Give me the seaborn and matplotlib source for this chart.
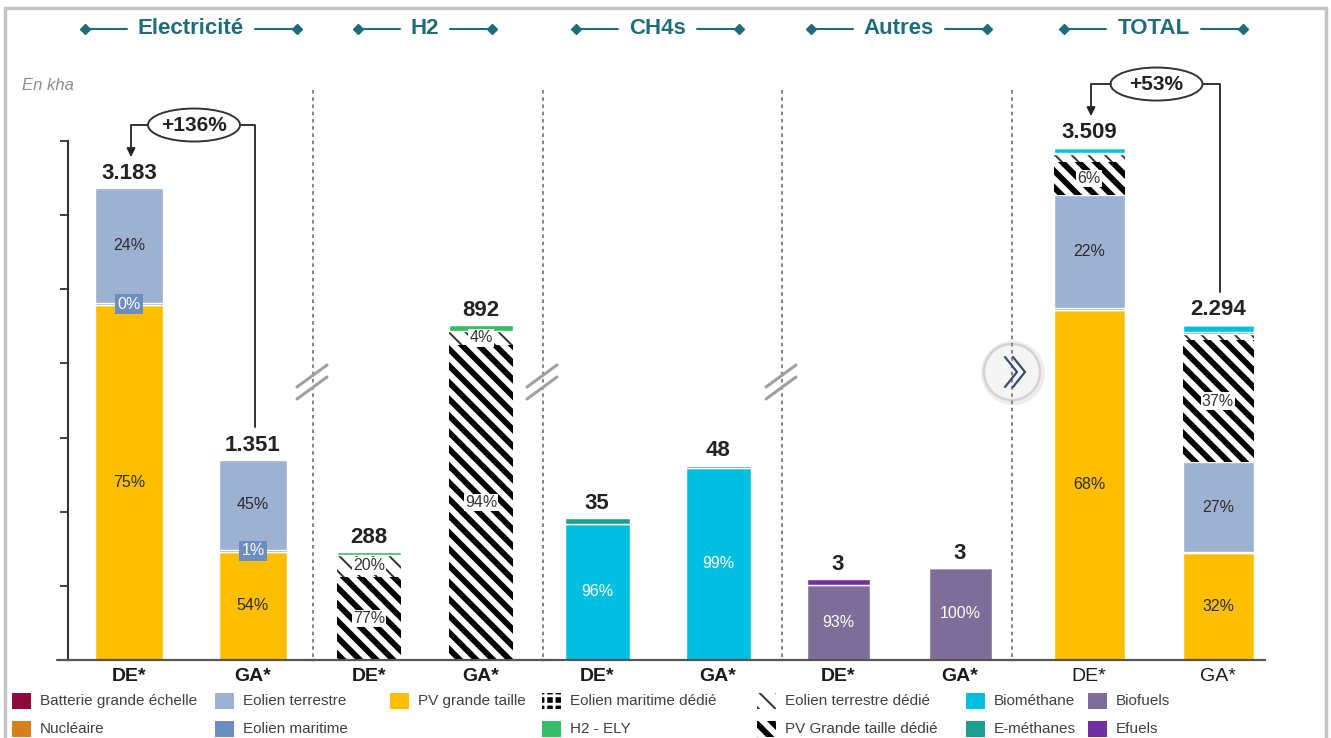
import numpy as np
import matplotlib
matplotlib.use("Agg")
import matplotlib.pyplot as plt
import seaborn as sns
from matplotlib.patches import Ellipse, Rectangle, Patch
from matplotlib.lines import Line2D

# Surfaces mobilisées par vecteur, en kha (scénarios DE* / GA*)
scenarios = ["DE*", "GA*"]

elec_pv_grande_taille = [2395, 730]
elec_eolien_maritime = [10, 11]
elec_eolien_terrestre = [778, 610]

h2_pv_dedie = [222, 839]
h2_eolien_terrestre_dedie = [58, 38]
h2_ely = [8, 15]

ch4_biomethane = [33.6, 47.5]
ch4_e_methanes = [1.4, 0.5]

autres_biofuels = [2.6, 3.2]
autres_efuels = [0.2, 0.0]

section_titles = ["Electricité", "H2", "CH4s", "Autres", "TOTAL"]

legend_items = [
    "Batterie grande échelle", "Nucléaire", "Eolien terrestre", "Eolien maritime",
    "PV grande taille", "Eolien maritime dédié", "H2 - ELY", "Eolien terrestre dédié",
    "PV Grande taille dédié", "Biométhane", "E-méthanes", "Biofuels", "Efuels",
]

STYLE = {
    "Batterie grande échelle": dict(color="#8C0A3C"),
    "Nucléaire": dict(color="#D4801C"),
    "Eolien terrestre": dict(color="#9DB1D1"),
    "Eolien maritime": dict(color="#6B8DC0"),
    "PV grande taille": dict(color="#FFBF00"),
    "Eolien maritime dédié": dict(color="black", hatch="++", hcolor="white", hlw=2.0),
    "H2 - ELY": dict(color="#35BD68"),
    "Eolien terrestre dédié": dict(color="white", hatch="\\\\", hcolor="#333333", hlw=1.4),
    "PV Grande taille dédié": dict(color="white", hatch="\\\\", hcolor="black", hlw=4.2),
    "Biométhane": dict(color="#00BFE0"),
    "E-méthanes": dict(color="#1E9E92"),
    "Biofuels": dict(color="#7C6E98"),
    "Efuels": dict(color="#7030A0"),
}

stacks = [
    [("PV grande taille", elec_pv_grande_taille),
     ("Eolien maritime", elec_eolien_maritime),
     ("Eolien terrestre", elec_eolien_terrestre)],
    [("PV Grande taille dédié", h2_pv_dedie),
     ("Eolien terrestre dédié", h2_eolien_terrestre_dedie),
     ("H2 - ELY", h2_ely)],
    [("Biométhane", ch4_biomethane),
     ("E-méthanes", ch4_e_methanes)],
    [("Biofuels", autres_biofuels),
     ("Efuels", autres_efuels)],
]
# the TOTAL column stacks every source of every vector
stacks.append([item for s in stacks for item in s])

labelled = [
    {"PV grande taille", "Eolien maritime", "Eolien terrestre"},
    {"PV Grande taille dédié", "Eolien terrestre dédié"},
    {"Biométhane"},
    {"Biofuels"},
    {"PV grande taille", "Eolien terrestre", "PV Grande taille dédié"},
]

# ---------------------------------------------------------------- layout
W, H = 1331, 738
sns.set_theme(style="white")
plt.rcParams["font.family"] = ["Liberation Sans", "DejaVu Sans"]

fig = plt.figure(figsize=(W / 100, H / 100), dpi=100)
fig.patch.set_facecolor("white")


def fx(px):
    return px / W


def fy(py):
    return 1 - py / H


BASE, TOP = 660, 90
sections = [(68, 313), (313, 543), (543, 782), (782, 1012), (1012, 1265)]
bar_centers = [(129, 253), (369, 481), (597, 718), (838, 960), (1089, 1218)]
bar_widths = [68, 64, 65, 63, 71]
y_limits = [3844, 1518, 140.7, 19.8, 3899]

HAS_HCOLOR = hasattr(Patch, "set_hatchcolor")
HAS_HLW = hasattr(Patch, "set_hatch_linewidth")


def label_kw(name):
    st = STYLE[name]
    if name == "Eolien maritime":
        return dict(color="white",
                    bbox=dict(boxstyle="square,pad=0.15", fc=st["color"], ec="none"))
    if "hatch" in st:
        return dict(color="#333333",
                    bbox=dict(boxstyle="square,pad=0.08", fc="white", ec="none"))
    if name in ("Biométhane", "Biofuels"):
        return dict(color="white")
    return dict(color="#2B2B2B")


axes = []
for k, ((l, r), (c0, c1), bw, ymax) in enumerate(
        zip(sections, bar_centers, bar_widths, y_limits)):
    ax = fig.add_axes([fx(l), fy(BASE), fx(r) - fx(l), (BASE - TOP) / H])
    axes.append(ax)
    spacing = c1 - c0
    width = bw / spacing
    bottom = np.zeros(len(scenarios))
    segs = []
    for name, vals in stacks[k]:
        vals = np.asarray(vals, dtype=float)
        st = STYLE[name]
        kw = dict(edgecolor="white", linewidth=1.0)
        if "hatch" in st:
            kw = dict(hatch=st["hatch"], edgecolor="white" if HAS_HCOLOR else st["hcolor"],
                      linewidth=1.0 if HAS_HCOLOR else 0)
        sns.barplot(x=scenarios, y=vals, order=scenarios, bottom=bottom,
                    color=st["color"], saturation=1, width=width,
                    errorbar=None, ax=ax, **kw)
        if "hatch" in st:
            for p in ax.containers[-1]:
                if HAS_HCOLOR:
                    p.set_hatchcolor(st["hcolor"])
                if HAS_HLW:
                    p.set_hatch_linewidth(st["hlw"])
        segs.append((name, vals, bottom.copy()))
        bottom = bottom + vals
    totals = bottom

    # share labels inside the segments
    for name, vals, bot in segs:
        if name not in labelled[k]:
            continue
        for i in range(len(scenarios)):
            ax.text(i, bot[i] + vals[i] / 2, f"{vals[i] / totals[i] * 100:.0f}%",
                    ha="center", va="center", fontsize=11.5, **label_kw(name))

    # totals above the bars
    for i, t in enumerate(totals):
        ax.annotate(f"{round(t):,}".replace(",", "."), xy=(i, t), xytext=(0, 3),
                    textcoords="offset points", ha="center", va="bottom",
                    fontsize=16, fontweight="bold", color="#222222")

    ax.set_xlim(-(c0 - l) / spacing, 1 + (r - c1) / spacing)
    ax.set_ylim(0, ymax)
    ax.set_xlabel("")
    ax.set_ylabel("")
    ax.set_facecolor("none")
    for s in ("top", "right", "left"):
        ax.spines[s].set_visible(False)
    ax.spines["bottom"].set_color("#555555")
    ax.spines["bottom"].set_linewidth(1.6)
    ax.tick_params(axis="x", length=0, pad=6)
    for t in ax.get_xticklabels():
        t.set_fontsize(14)
        t.set_fontweight("normal" if k == 4 else "bold")
        t.set_color("#1A1A1A")
    ax.set_yticks([])
    ax.totals = totals

# value axis of the electricity panel
ax0 = axes[0]
ax0.spines["left"].set_visible(True)
ax0.spines["left"].set_color("#333333")
ax0.spines["left"].set_linewidth(1.5)
ax0.spines["left"].set_bounds(0, 3500)
ax0.set_yticks(np.arange(0, 3501, 500))
ax0.set_yticklabels([])
ax0.tick_params(axis="y", length=6, width=1.3, color="#333333", direction="out", left=True)
fig.add_artist(Line2D([fx(57), fx(68)], [fy(BASE), fy(BASE)], color="#555555", lw=1.6))

fig.text(fx(22), fy(86), "En kha", fontsize=12, style="italic", color="#8C8C8C",
         ha="left", va="center")

# dashed separators between vectors, with axis-break marks
for k, xd in enumerate([313, 543, 782, 1012]):
    fig.add_artist(Line2D([fx(xd), fx(xd)], [fy(TOP), fy(BASE)], color="#7A7A7A",
                          lw=1.3, linestyle=(0, (2, 2))))
    if k < 3:
        for dy in (-6, 6):
            fig.add_artist(Line2D([fx(xd - 16), fx(xd + 14)],
                                  [fy(382 + dy + 11), fy(382 + dy - 11)],
                                  color="#A0A0A0", lw=2.2, solid_capstyle="round"))

# round "next" button on the last separator
bx, by, br = 1012, 372, 28
fig.add_artist(Ellipse((fx(bx + 1), fy(by + 1)), 2 * (br + 4) / W, 2 * (br + 4) / H,
                       fc="#E6E6E6", ec="none", alpha=0.7))
fig.add_artist(Ellipse((fx(bx), fy(by)), 2 * br / W, 2 * br / H,
                       fc="#F5F5F5", ec="#D3D3D3", lw=1.8))
for off in (0, 8):
    fig.add_artist(Line2D([fx(bx - 7 + off), fx(bx + 5 + off), fx(bx - 7 + off)],
                          [fy(by - 15), fy(by), fy(by + 15)],
                          color="#3B4A6E", lw=1.6))

# section headers with diamond-ended rules
renderer = fig.canvas.get_renderer()
teal = "#1D6E7A"
for title, (c0, c1) in zip(section_titles, bar_centers):
    cx = (c0 + c1) / 2
    t = fig.text(fx(cx), fy(28), title, ha="center", va="center", fontsize=16,
                 fontweight="bold", color=teal)
    tw = t.get_window_extent(renderer=renderer).width
    for sgn in (-1, 1):
        x_in = cx + sgn * (tw / 2 + 11)
        x_out = x_in + sgn * 42
        fig.add_artist(Line2D([fx(x_in), fx(x_out)], [fy(29), fy(29)], color=teal, lw=1.5))
        fig.add_artist(Line2D([fx(x_out)], [fy(29)], marker="D", markersize=5,
                              color=teal, lw=0))


# growth brackets between DE* and GA*
def to_px(ax, x, y):
    X, Y = ax.transData.transform((x, y))
    return X, H - Y


for ax in (axes[0], axes[4]):
    de, ga = ax.totals
    growth = (de / ga - 1) * 100
    x0, y0 = to_px(ax, 0, de)
    x1, y1 = to_px(ax, 1, ga)
    ye = y0 - 63
    xe = (x0 + x1) / 2 + 3
    ew, eh = 92, 33
    fig.add_artist(Line2D([fx(xe - ew / 2), fx(x0 + 2), fx(x0 + 2)],
                          [fy(ye), fy(ye), fy(y0 - 40)], color="#333333", lw=1.4))
    ax.annotate("", xy=(x0 + 2, H - (y0 - 31)), xytext=(x0 + 2, H - (y0 - 41)),
                xycoords="figure pixels", textcoords="figure pixels",
                arrowprops=dict(arrowstyle="-|>", color="#222222", lw=1.2,
                                mutation_scale=13, shrinkA=0, shrinkB=0),
                annotation_clip=False)
    fig.add_artist(Line2D([fx(xe + ew / 2), fx(x1 + 2), fx(x1 + 2)],
                          [fy(ye), fy(ye), fy(y1 - 33)], color="#333333", lw=1.4))
    fig.add_artist(Ellipse((fx(xe), fy(ye)), ew / W, eh / H, fc="white",
                           ec="#333333", lw=1.4))
    fig.text(fx(xe), fy(ye), f"+{growth:.0f}%", ha="center", va="center",
             fontsize=15, fontweight="bold", color="#222222")

# legend
col_x = [12, 215, 390, 542, 757, 966, 1088]
row_y = [701, 729]
legend_pos = {
    "Batterie grande échelle": (0, 0), "Nucléaire": (0, 1),
    "Eolien terrestre": (1, 0), "Eolien maritime": (1, 1),
    "PV grande taille": (2, 0),
    "Eolien maritime dédié": (3, 0), "H2 - ELY": (3, 1),
    "Eolien terrestre dédié": (4, 0), "PV Grande taille dédié": (4, 1),
    "Biométhane": (5, 0), "E-méthanes": (5, 1),
    "Biofuels": (6, 0), "Efuels": (6, 1),
}
for name in legend_items:
    c, rr = legend_pos[name]
    x, y = col_x[c], row_y[rr]
    st = STYLE[name]
    sw, sh = 19, 16
    kw = dict(fc=st["color"], ec="none")
    if "hatch" in st:
        kw = dict(fc=st["color"], hatch=st["hatch"],
                  ec=("none" if HAS_HCOLOR else st["hcolor"]), lw=0)
    rect = Rectangle((fx(x), fy(y + sh / 2)), sw / W, sh / H, **kw)
    if "hatch" in st:
        if HAS_HCOLOR:
            rect.set_hatchcolor(st["hcolor"])
        if HAS_HLW:
            rect.set_hatch_linewidth(st["hlw"])
    fig.add_artist(rect)
    fig.text(fx(x + 28), fy(y), name, ha="left", va="center", fontsize=11,
             color="#404040")

# outer frame
fig.add_artist(Rectangle((fx(5), fy(760)), (1326 - 5) / W, (760 - 8) / H,
                         fc="none", ec="#C4C4C4", lw=2.5))

fig.savefig("out.png", dpi=100, facecolor="white")
